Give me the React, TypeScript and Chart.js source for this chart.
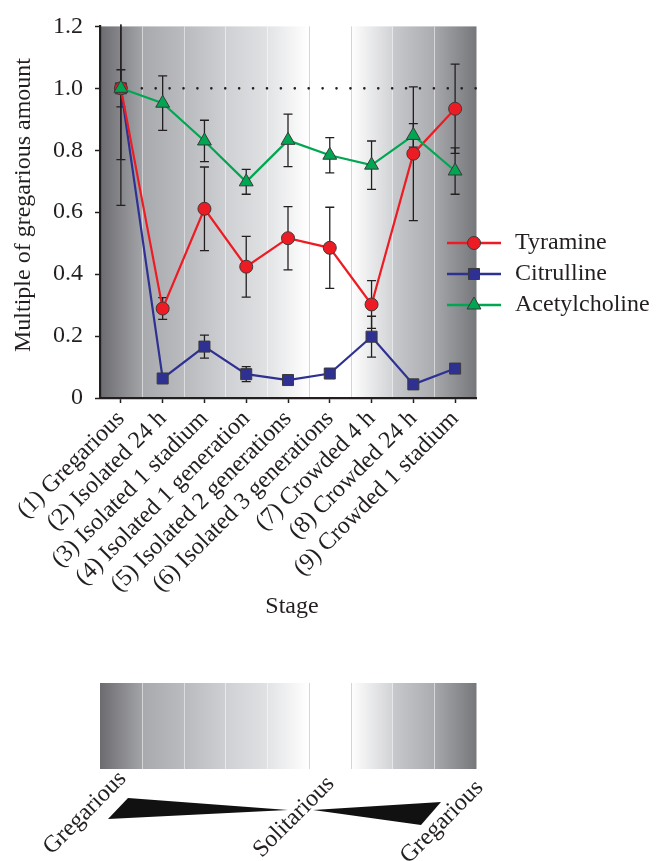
import React, { useEffect, useRef } from 'react';
import { Chart, registerables } from 'chart.js';

Chart.register(...registerables);

// ---------- data ----------
const stages = [
  '(1) Gregarious',
  '(2) Isolated 24 h',
  '(3) Isolated 1 stadium',
  '(4) Isolated 1 generation',
  '(5) Isolated 2 generations',
  '(6) Isolated 3 generations',
  '(7) Crowded 4 h',
  '(8) Crowded 24 h',
  '(9) Crowded 1 stadium',
];
const tyramine = [1.0, 0.289, 0.611, 0.424, 0.516, 0.485, 0.302, 0.789, 0.934];
const tyramineErr = [0.23, 0.035, 0.135, 0.098, 0.102, 0.131, 0.077, 0.216, 0.144];
const citrulline = [1.0, 0.063, 0.166, 0.077, 0.058, 0.079, 0.198, 0.044, 0.095];
const citrullineErr = [0.378, 0.006, 0.037, 0.024, 0.006, 0.006, 0.066, 0.006, 0.006];
const acetylcholine = [1.0, 0.952, 0.83, 0.698, 0.832, 0.784, 0.752, 0.848, 0.733];
const acetylcholineErr = [0.06, 0.088, 0.067, 0.04, 0.085, 0.057, 0.078, 0.038, 0.075];
const yTicks = [0, 0.2, 0.4, 0.6, 0.8, 1.0, 1.2];
const referenceLevel = 1.0;
const yTitle = 'Multiple of gregarious amount';
const xTitle = 'Stage';
const phaseLabels = ['Gregarious', 'Solitarious', 'Gregarious'];

// ---------- style ----------
const FONT = '"Liberation Serif", "Times New Roman", Times, serif';
const INK = '#231f20';
const RED = '#ed1c24';
const BLUE = '#2e3192';
const GREEN = '#00a651';
const FS = 24;

const bandColors: [string, string][] = [
  ['#6c6c70', '#a2a3a7'],
  ['#a8a9ad', '#babbbe'],
  ['#b9babd', '#cecfd2'],
  ['#cfd0d3', '#e0e1e3'],
  ['#e2e3e5', '#ffffff'],
  ['#ffffff', '#ffffff'],
  ['#ffffff', '#d2d3d6'],
  ['#c8c9cc', '#abacb0'],
  ['#a7a8ac', '#77787c'],
];

const errorSets = [tyramineErr, citrullineErr, acetylcholineErr];

function paintBands(ctx: CanvasRenderingContext2D, xs: any, top: number, bottom: number) {
  const n = stages.length;
  const half = (xs.getPixelForValue(1) - xs.getPixelForValue(0)) / 2;
  for (let i = 0; i < n; i++) {
    const c = xs.getPixelForValue(i);
    const l = c - half;
    const r = c + half;
    const g = ctx.createLinearGradient(l, 0, r, 0);
    g.addColorStop(0, bandColors[i][0]);
    g.addColorStop(1, bandColors[i][1]);
    ctx.fillStyle = g;
    ctx.fillRect(l, top, r - l + 0.5, bottom - top);
  }
  for (let i = 1; i < n; i++) {
    const x = Math.round(xs.getPixelForValue(i) - half) + 0.5;
    ctx.strokeStyle = i === 5 || i === 6 ? '#d4d5d7' : 'rgba(255,255,255,0.5)';
    ctx.lineWidth = 1;
    ctx.beginPath();
    ctx.moveTo(x, top);
    ctx.lineTo(x, bottom);
    ctx.stroke();
  }
}

function drawMarker(ctx: CanvasRenderingContext2D, style: string, x: number, y: number, r: number, fill: string) {
  ctx.beginPath();
  if (style === 'circle') {
    ctx.arc(x, y, r, 0, Math.PI * 2);
  } else if (style === 'rect') {
    const s = r * Math.SQRT1_2;
    ctx.rect(x - s, y - s, 2 * s, 2 * s);
  } else {
    ctx.moveTo(x, y - r);
    ctx.lineTo(x + r * Math.sin((2 * Math.PI) / 3), y - r * Math.cos((2 * Math.PI) / 3));
    ctx.lineTo(x + r * Math.sin((4 * Math.PI) / 3), y - r * Math.cos((4 * Math.PI) / 3));
    ctx.closePath();
  }
  ctx.fillStyle = fill;
  ctx.fill();
  ctx.strokeStyle = '#3a3a3a';
  ctx.lineWidth = 1;
  ctx.stroke();
}

const decorPlugin = {
  id: 'decor',
  beforeDraw(chart: any) {
    const { ctx, chartArea, scales } = chart;
    ctx.save();
    ctx.fillStyle = '#ffffff';
    ctx.fillRect(0, 0, chart.width, chart.height);
    paintBands(ctx, scales.x, chartArea.top, chartArea.bottom);
    ctx.restore();
  },
  beforeDatasetsDraw(chart: any) {
    const { ctx, chartArea, scales } = chart;
    const xs = scales.x;
    const ys = scales.y;
    ctx.save();
    // dotted reference line
    const half = (xs.getPixelForValue(1) - xs.getPixelForValue(0)) / 2;
    const yRef = ys.getPixelForValue(referenceLevel);
    ctx.strokeStyle = INK;
    ctx.lineWidth = 2.6;
    ctx.lineCap = 'round';
    ctx.setLineDash([0.01, 13.9]);
    ctx.beginPath();
    ctx.moveTo(xs.getPixelForValue(0) + half, yRef);
    ctx.lineTo(chartArea.right, yRef);
    ctx.stroke();
    ctx.setLineDash([]);
    ctx.lineCap = 'butt';
    // error bars
    ctx.beginPath();
    ctx.rect(chartArea.left, chartArea.top - 2, chartArea.right - chartArea.left, chartArea.bottom - chartArea.top + 2);
    ctx.clip();
    ctx.strokeStyle = INK;
    ctx.lineWidth = 1.3;
    chart.data.datasets.forEach((ds: any, di: number) => {
      const errs = errorSets[di];
      ds.data.forEach((v: number, i: number) => {
        const x = xs.getPixelForValue(i);
        const yHi = ys.getPixelForValue(v + errs[i]);
        const yLo = ys.getPixelForValue(v - errs[i]);
        ctx.beginPath();
        ctx.moveTo(x, yHi);
        ctx.lineTo(x, yLo);
        ctx.moveTo(x - 4.5, yHi);
        ctx.lineTo(x + 4.5, yHi);
        ctx.moveTo(x - 4.5, yLo);
        ctx.lineTo(x + 4.5, yLo);
        ctx.stroke();
      });
    });
    ctx.restore();
  },
  afterDraw(chart: any) {
    const { ctx, scales } = chart;
    const xs = scales.x;
    ctx.save();
    // y axis title
    ctx.fillStyle = INK;
    ctx.font = `${FS}px ${FONT}`;
    ctx.textAlign = 'center';
    ctx.textBaseline = 'middle';
    ctx.save();
    ctx.translate(24, 205);
    ctx.rotate(-Math.PI / 2);
    ctx.fillText(yTitle, 0, 0);
    ctx.restore();
    // x axis title
    ctx.fillText(xTitle, 292, 607);

    // legend
    const legendYs = [243, 274, 305];
    chart.data.datasets.forEach((ds: any, i: number) => {
      const y = legendYs[i];
      ctx.strokeStyle = ds.borderColor;
      ctx.lineWidth = 2.6;
      ctx.beginPath();
      ctx.moveTo(447, y);
      ctx.lineTo(501, y);
      ctx.stroke();
      drawMarker(ctx, ds.pointStyle, 474, y, ds.pointRadius, ds.backgroundColor);
      ctx.fillStyle = INK;
      ctx.textAlign = 'left';
      ctx.textBaseline = 'middle';
      ctx.fillText(ds.label, 515, y);
    });

    // lower phase panel
    paintBands(ctx, xs, 683, 769);

    // wedges
    ctx.fillStyle = '#111111';
    ctx.beginPath();
    ctx.moveTo(128, 798);
    ctx.lineTo(288, 810);
    ctx.lineTo(108, 819);
    ctx.closePath();
    ctx.fill();
    ctx.beginPath();
    ctx.moveTo(313, 810);
    ctx.lineTo(441, 802);
    ctx.lineTo(421, 825);
    ctx.closePath();
    ctx.fill();

    // phase labels
    ctx.fillStyle = INK;
    ctx.textAlign = 'center';
    ctx.textBaseline = 'middle';
    const labelPos = [
      [85, 813],
      [294, 817],
      [442, 822],
    ];
    phaseLabels.forEach((t, i) => {
      ctx.save();
      ctx.translate(labelPos[i][0], labelPos[i][1]);
      ctx.rotate(-Math.PI / 4);
      ctx.fillText(t, 0, 0);
      ctx.restore();
    });
    ctx.restore();
  },
};

export default function App() {
  const ref = useRef<HTMLCanvasElement>(null);
  useEffect(() => {
    const canvas = ref.current!;
    const mk = (label: string, data: number[], color: string, style: string, radius: number, order: number) => ({
      label,
      data,
      borderColor: color,
      backgroundColor: color,
      pointBackgroundColor: color,
      pointBorderColor: '#3a3a3a',
      pointBorderWidth: 1,
      pointStyle: style,
      pointRadius: radius,
      borderWidth: 2.2,
      tension: 0,
      order,
    });
    const chart = new Chart(canvas, {
      type: 'line',
      data: {
        labels: stages,
        datasets: [
          mk('Tyramine', tyramine, RED, 'circle', 6.5, 1),
          mk('Citrulline', citrulline, BLUE, 'rect', 7.8, 2),
          mk('Acetylcholine', acetylcholine, GREEN, 'triangle', 8, 0),
        ] as any,
      },
      options: {
        responsive: false,
        devicePixelRatio: 1,
        animation: false,
        events: [],
        layout: { padding: { left: 0, top: 22, right: 190, bottom: 0 } },
        plugins: { legend: { display: false }, tooltip: { enabled: false } },
        scales: {
          x: {
            type: 'category',
            offset: true,
            grid: {
              offset: false,
              drawOnChartArea: false,
              drawTicks: true,
              tickLength: 5,
              tickWidth: 1.5,
              tickColor: INK,
            },
            border: { display: true, color: INK, width: 2.2 },
            ticks: {
              autoSkip: false,
              maxRotation: 45,
              minRotation: 45,
              padding: 2,
              color: INK,
              font: { family: FONT, size: FS },
            },
            afterFit: (s: any) => {
              s.height = 861 - 398;
            },
          },
          y: {
            type: 'linear',
            min: 0,
            max: 1.2,
            grid: {
              drawOnChartArea: false,
              drawTicks: true,
              tickLength: 5,
              tickWidth: 1.5,
              tickColor: INK,
            },
            border: { display: true, color: INK, width: 2.2 },
            afterBuildTicks: (s: any) => {
              s.ticks = yTicks.map((v) => ({ value: v }));
            },
            ticks: {
              padding: 12,
              color: INK,
              font: { family: FONT, size: FS },
              callback: (v: any) => (Number(v) === 0 ? '0' : Number(v).toFixed(1)),
            },
            afterFit: (s: any) => {
              s.width = 100;
            },
          },
        },
      },
      plugins: [decorPlugin],
    });
    return () => chart.destroy();
  }, []);
  return (
    <div style={{ position: 'absolute', left: 0, top: 0, width: 666, height: 861, background: '#ffffff' }}>
      <canvas ref={ref} width={666} height={861} style={{ display: 'block' }} />
    </div>
  );
}
